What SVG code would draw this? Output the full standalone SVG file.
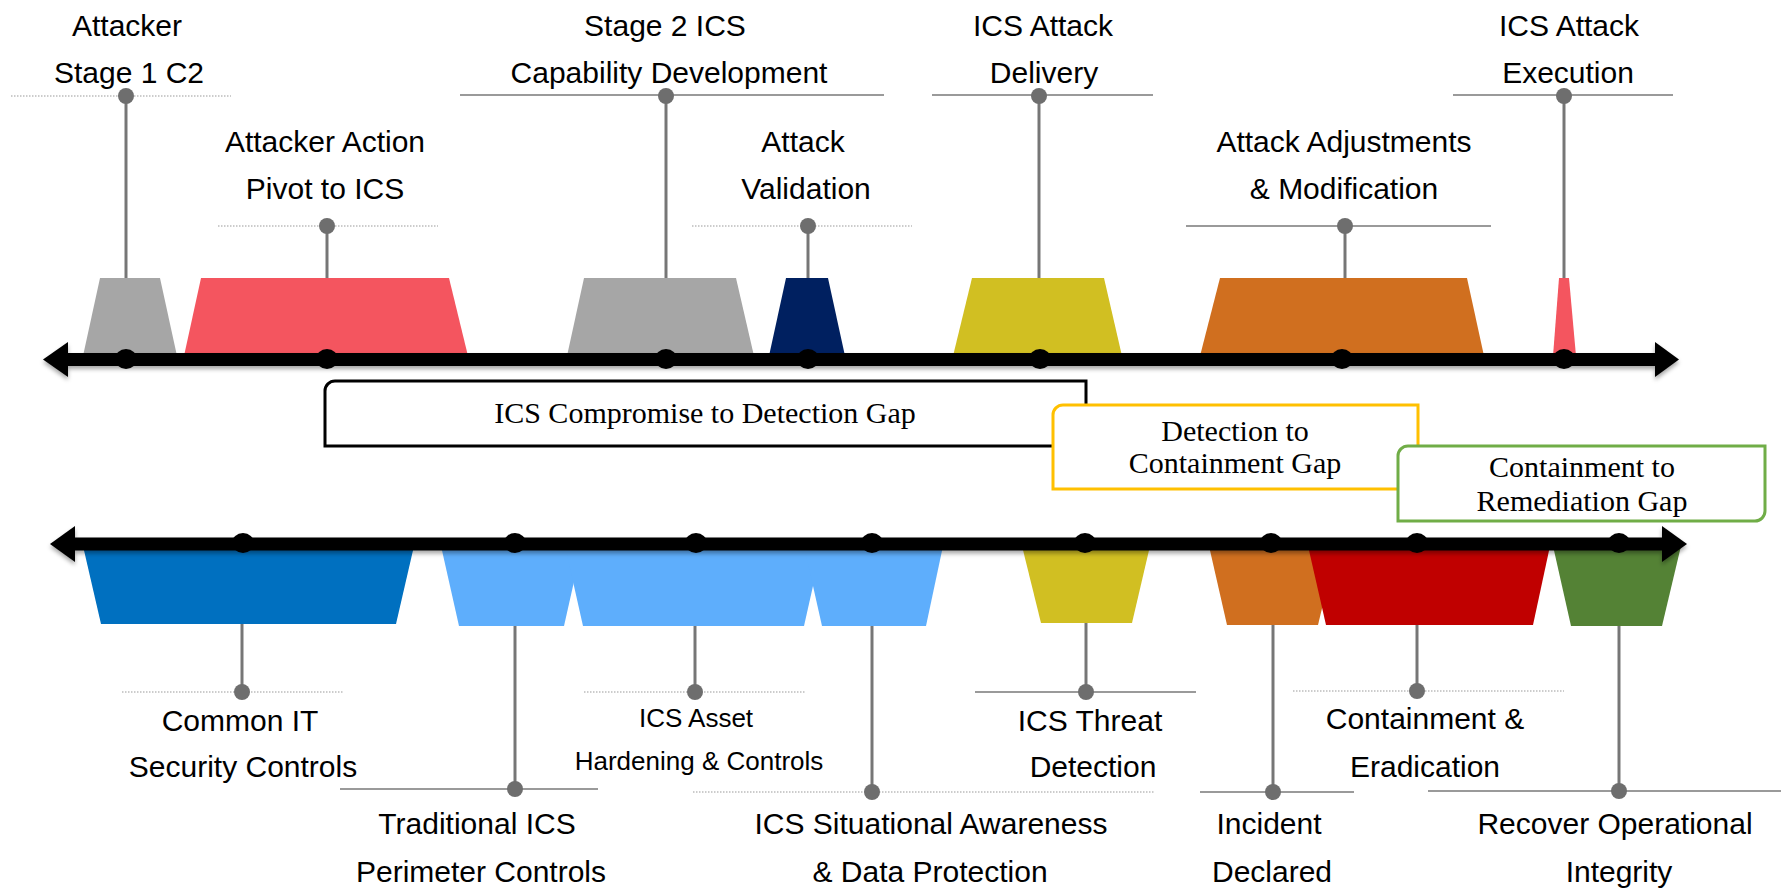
<svg xmlns="http://www.w3.org/2000/svg" width="1781" height="890" viewBox="0 0 1781 890">
  <defs>
    <filter id="shadow" x="-5%" y="-50%" width="110%" height="200%">
      <feDropShadow dx="0" dy="3" stdDeviation="2" flood-color="#000" flood-opacity="0.35"/>
    </filter>
    <style>
      .lbl { font-family: "Liberation Sans", Arial, sans-serif; font-size: 30px; fill: #000; text-anchor: middle; }
      .lbl-sm { font-size: 26px; }
      .gap { font-family: "Liberation Serif", "Times New Roman", serif; font-size: 30px; fill: #000; text-anchor: middle; }
      .stem { stroke: #767676; stroke-width: 3; fill: none; }
      .pin { fill: #6e6e6e; }
      .rule { stroke: #9a9a9a; stroke-width: 2; fill: none; }
      .rule-dot { stroke: #9a9a9a; stroke-width: 1.2; stroke-dasharray: 1.5 1.5; fill: none; }
      .axis { stroke: #000; stroke-width: 13; }
      .tick { fill: #000; }
    </style>
  </defs>

  <rect width="1781" height="890" fill="#fff"/>

  <!-- attack phases (upper timeline) -->
  <g id="phase-stage1-c2">
    <polygon points="100,278 160,278 177,356 83,356" fill="#a6a6a6"/>
    <line class="rule-dot" x1="11" y1="96" x2="231" y2="96"/>
    <line class="stem" x1="126" y1="96" x2="126" y2="278"/>
    <ellipse class="pin" cx="126" cy="96" rx="8" ry="8"/>
    <text class="lbl" x="127" y="36">Attacker</text>
    <text class="lbl" x="129" y="83">Stage 1 C2</text>
  </g>
  <g id="phase-pivot">
    <polygon points="201,278 449,278 468,356 184,356" fill="#f4555f"/>
    <line class="rule-dot" x1="218" y1="226" x2="438" y2="226"/>
    <line class="stem" x1="327" y1="226" x2="327" y2="278"/>
    <ellipse class="pin" cx="327" cy="226" rx="8" ry="8"/>
    <text class="lbl" x="325" y="152">Attacker Action</text>
    <text class="lbl" x="325" y="199">Pivot to ICS</text>
  </g>
  <g id="phase-stage2">
    <polygon points="584,278 736,278 754,356 567,356" fill="#a6a6a6"/>
    <line class="rule" x1="460" y1="95" x2="884" y2="95"/>
    <line class="stem" x1="666" y1="96" x2="666" y2="278"/>
    <ellipse class="pin" cx="666" cy="96" rx="8" ry="8"/>
    <text class="lbl" x="665" y="36">Stage 2 ICS</text>
    <text class="lbl" x="669" y="83">Capability Development</text>
  </g>
  <g id="phase-validation">
    <polygon points="786,278 828,278 845,356 769,356" fill="#002060"/>
    <line class="rule-dot" x1="692" y1="226" x2="912" y2="226"/>
    <line class="stem" x1="808" y1="226" x2="808" y2="278"/>
    <ellipse class="pin" cx="808" cy="226" rx="8" ry="8"/>
    <text class="lbl" x="803" y="152">Attack</text>
    <text class="lbl" x="806" y="199">Validation</text>
  </g>
  <g id="phase-delivery">
    <polygon points="972,278 1104,278 1122,356 953,356" fill="#d1bf22"/>
    <line class="rule" x1="932" y1="95" x2="1153" y2="95"/>
    <line class="stem" x1="1039" y1="96" x2="1039" y2="278"/>
    <ellipse class="pin" cx="1039" cy="96" rx="8" ry="8"/>
    <text class="lbl" x="1043" y="36">ICS Attack</text>
    <text class="lbl" x="1044" y="83">Delivery</text>
  </g>
  <g id="phase-adjustments">
    <polygon points="1220,278 1467,278 1484,356 1200,356" fill="#d06f1f"/>
    <line class="rule" x1="1186" y1="226" x2="1491" y2="226"/>
    <line class="stem" x1="1345" y1="226" x2="1345" y2="278"/>
    <ellipse class="pin" cx="1345" cy="226" rx="8" ry="8"/>
    <text class="lbl" x="1344" y="152">Attack Adjustments</text>
    <text class="lbl" x="1344" y="199">&amp; Modification</text>
  </g>
  <g id="phase-execution">
    <polygon points="1559,278 1569,278 1576,356 1553,356" fill="#f4555f"/>
    <line class="rule" x1="1453" y1="95" x2="1673" y2="95"/>
    <line class="stem" x1="1564" y1="96" x2="1564" y2="278"/>
    <ellipse class="pin" cx="1564" cy="96" rx="8" ry="8"/>
    <text class="lbl" x="1569" y="36">ICS Attack</text>
    <text class="lbl" x="1568" y="83">Execution</text>
  </g>

  <!-- defence phases (lower timeline) -->
  <g id="ctl-common-it">
    <polygon points="83,546 414,546 396,624 101,624" fill="#0070c0"/>
    <line class="rule-dot" x1="122" y1="692" x2="343" y2="692"/>
    <line class="stem" x1="242" y1="624" x2="242" y2="692"/>
    <ellipse class="pin" cx="242" cy="692" rx="8" ry="8"/>
    <text class="lbl" x="240" y="731">Common IT</text>
    <text class="lbl" x="243" y="777">Security Controls</text>
  </g>
  <g id="ctl-perimeter">
    <polygon points="441,546 582,546 564,626 459,626" fill="#5eaefc"/>
    <line class="rule" x1="340" y1="789" x2="598" y2="789"/>
    <line class="stem" x1="515" y1="626" x2="515" y2="789"/>
    <ellipse class="pin" cx="515" cy="789" rx="8" ry="8"/>
    <text class="lbl" x="477" y="834">Traditional ICS</text>
    <text class="lbl" x="481" y="882">Perimeter Controls</text>
  </g>
  <g id="ctl-asset-hardening">
    <polygon points="565,546 822,546 804,626 583,626" fill="#5eaefc"/>
    <line class="rule-dot" x1="584" y1="692" x2="805" y2="692"/>
    <line class="stem" x1="695" y1="626" x2="695" y2="692"/>
    <ellipse class="pin" cx="695" cy="692" rx="8" ry="8"/>
    <text class="lbl lbl-sm" x="696" y="727">ICS Asset</text>
    <text class="lbl lbl-sm" x="699" y="770">Hardening &amp; Controls</text>
  </g>
  <g id="ctl-situational">
    <polygon points="804,546 943,546 926,626 822,626" fill="#5eaefc"/>
    <line class="rule-dot" x1="693" y1="792" x2="1154" y2="792"/>
    <line class="stem" x1="872" y1="626" x2="872" y2="792"/>
    <ellipse class="pin" cx="872" cy="792" rx="8" ry="8"/>
    <text class="lbl" x="931" y="834">ICS Situational Awareness</text>
    <text class="lbl" x="930" y="882">&amp; Data Protection</text>
  </g>
  <g id="ctl-threat-detection">
    <polygon points="1022,546 1150,546 1132,623 1041,623" fill="#d1bf22"/>
    <line class="rule" x1="975" y1="692" x2="1196" y2="692"/>
    <line class="stem" x1="1086" y1="623" x2="1086" y2="692"/>
    <ellipse class="pin" cx="1086" cy="692" rx="8" ry="8"/>
    <text class="lbl" x="1090" y="731">ICS Threat</text>
    <text class="lbl" x="1093" y="777">Detection</text>
  </g>
  <g id="ctl-incident">
    <polygon points="1209,546 1337,546 1318,625 1227,625" fill="#d06f1f"/>
    <line class="rule" x1="1200" y1="792" x2="1354" y2="792"/>
    <line class="stem" x1="1273" y1="625" x2="1273" y2="792"/>
    <ellipse class="pin" cx="1273" cy="792" rx="8" ry="8"/>
    <text class="lbl" x="1269" y="834">Incident</text>
    <text class="lbl" x="1272" y="882">Declared</text>
  </g>
  <g id="ctl-containment">
    <polygon points="1308,546 1550,546 1533,625 1326,625" fill="#c00000"/>
    <line class="rule-dot" x1="1293" y1="691" x2="1564" y2="691"/>
    <line class="stem" x1="1417" y1="625" x2="1417" y2="691"/>
    <ellipse class="pin" cx="1417" cy="691" rx="8" ry="8"/>
    <text class="lbl" x="1425" y="729">Containment &amp;</text>
    <text class="lbl" x="1425" y="777">Eradication</text>
  </g>
  <g id="ctl-recover">
    <polygon points="1553,546 1681,546 1662,626 1571,626" fill="#548235"/>
    <line class="rule" x1="1428" y1="791" x2="1781" y2="791"/>
    <line class="stem" x1="1619" y1="626" x2="1619" y2="791"/>
    <ellipse class="pin" cx="1619" cy="791" rx="8" ry="8"/>
    <text class="lbl" x="1615" y="834">Recover Operational</text>
    <text class="lbl" x="1619" y="882">Integrity</text>
  </g>

  <!-- timelines -->
  <g id="timelines">
    <g filter="url(#shadow)">
      <line class="axis" x1="62" y1="359.5" x2="1660" y2="359.5"/>
      <polygon class="tick" points="43,359.5 68,342 68,377"/>
      <polygon class="tick" points="1679,359.5 1655,342 1655,377"/>
    </g>
    <g class="tick">
      <ellipse cx="126" cy="359" rx="11" ry="10"/>
      <ellipse cx="327" cy="359" rx="11" ry="10"/>
      <ellipse cx="666" cy="359" rx="11" ry="10"/>
      <ellipse cx="808" cy="359" rx="11" ry="10"/>
      <ellipse cx="1040" cy="359" rx="11" ry="10"/>
      <ellipse cx="1342" cy="359" rx="11" ry="10"/>
      <ellipse cx="1564" cy="359" rx="11" ry="10"/>
    </g>
    <g filter="url(#shadow)">
      <line class="axis" x1="70" y1="544" x2="1665" y2="544"/>
      <polygon class="tick" points="50,544 75,526 75,562"/>
      <polygon class="tick" points="1687,544 1662,526 1662,562"/>
    </g>
    <g class="tick">
      <ellipse cx="243" cy="543" rx="11" ry="10"/>
      <ellipse cx="515" cy="543" rx="11" ry="10"/>
      <ellipse cx="696" cy="543" rx="11" ry="10"/>
      <ellipse cx="872" cy="543" rx="11" ry="10"/>
      <ellipse cx="1085" cy="543" rx="11" ry="10"/>
      <ellipse cx="1271" cy="543" rx="11" ry="10"/>
      <ellipse cx="1417" cy="543" rx="11" ry="10"/>
      <ellipse cx="1619" cy="543" rx="11" ry="10"/>
    </g>
  </g>

  <!-- gap boxes: top-left and bottom-right corners rounded -->
  <g id="gap-compromise-detection">
    <path d="M335,381 H1086 V436 A10,10 0 0 1 1076,446 H325 V391 A10,10 0 0 1 335,381 Z" fill="#fff" stroke="#000" stroke-width="3"/>
    <text class="gap" x="705" y="423">ICS Compromise to Detection Gap</text>
  </g>
  <g id="gap-detection-containment">
    <path d="M1063,405 H1418 V479 A10,10 0 0 1 1408,489 H1053 V415 A10,10 0 0 1 1063,405 Z" fill="#fff" stroke="#ffc000" stroke-width="3"/>
    <text class="gap" x="1235" y="441">Detection to</text>
    <text class="gap" x="1235" y="473">Containment Gap</text>
  </g>
  <g id="gap-containment-remediation">
    <path d="M1408,446 H1765 V511 A10,10 0 0 1 1755,521 H1398 V456 A10,10 0 0 1 1408,446 Z" fill="#fff" stroke="#70ad47" stroke-width="3"/>
    <text class="gap" x="1582" y="477">Containment to</text>
    <text class="gap" x="1582" y="511">Remediation Gap</text>
  </g>
</svg>
